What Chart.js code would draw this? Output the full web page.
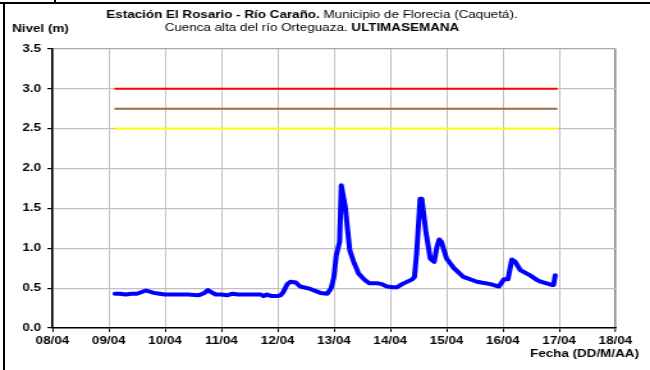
<!DOCTYPE html>
<html><head><meta charset="utf-8">
<script src="https://cdn.jsdelivr.net/npm/chart.js@4"></script>
<style>
html,body{margin:0;padding:0;background:#fff;}
#wrap{position:relative;width:650px;height:370px;overflow:hidden;background:#fff;}
#c{position:absolute;left:0;top:0;transform:scaleX(1.2795);transform-origin:0 0;}
.fr{position:absolute;background:#000;}
</style></head><body>
<div id="wrap">
<canvas id="c" width="508" height="370" style="width:508px;height:370px"></canvas>
<div class="fr" style="left:0;top:2px;width:650px;height:2px"></div>
<div class="fr" style="left:3px;top:2px;width:2px;height:368px"></div>
<div class="fr" style="left:54px;top:0;width:2px;height:3px"></div>
</div>
<script>
const tickLabels = ['08/04','09/04','10/04','11/04','12/04','13/04','14/04','15/04','16/04','17/04','18/04'];
const yTickValues = [0, 0.5, 1.0, 1.5, 2.0, 2.5, 3.0, 3.5];
const titleLine1 = [['Estación El Rosario - Río Caraño.', true], [' Municipio de Florecia (Caquetá).', false]];
const titleLine2 = [['Cuenca alta del río Orteguaza. ', false], ['ULTIMASEMANA', true]];
const yAxisTitle = 'Nivel (m)';
const xAxisTitle = 'Fecha (DD/M/AA)';

const levelDays = [9.11, 9.2, 9.3, 9.4, 9.5, 9.66, 9.8, 9.9, 10.0, 10.2, 10.4, 10.6, 10.7, 10.76, 10.82, 10.9,
  11.0, 11.1, 11.2, 11.3, 11.5, 11.7, 11.75, 11.8, 11.9, 11.99, 12.05, 12.1, 12.17, 12.23, 12.32, 12.4,
  12.58, 12.76, 12.88, 12.95, 13.0, 13.04, 13.1, 13.13, 13.2, 13.28, 13.35, 13.44, 13.55, 13.63, 13.78,
  13.85, 13.94, 14.05, 14.12, 14.21, 14.39, 14.43, 14.47, 14.53, 14.56, 14.63, 14.71, 14.78, 14.83, 14.87,
  14.91, 15.0, 15.13, 15.3, 15.54, 15.78, 15.93, 16.02, 16.09, 16.16, 16.22, 16.31, 16.46, 16.61, 16.67,
  16.87, 16.9, 16.93];
const levelValues = [0.43, 0.43, 0.42, 0.43, 0.43, 0.47, 0.44, 0.43, 0.42, 0.42, 0.42, 0.41, 0.44, 0.475, 0.45, 0.42,
  0.42, 0.41, 0.43, 0.42, 0.42, 0.42, 0.40, 0.42, 0.40, 0.40, 0.41, 0.45, 0.55, 0.58, 0.57, 0.52,
  0.49, 0.44, 0.43, 0.50, 0.64, 0.91, 1.08, 1.79, 1.52, 0.975, 0.83, 0.68, 0.60, 0.56, 0.56,
  0.55, 0.52, 0.51, 0.51, 0.55, 0.61, 0.64, 0.95, 1.62, 1.62, 1.22, 0.87, 0.83, 1.02, 1.11,
  1.08, 0.87, 0.75, 0.64, 0.58, 0.55, 0.52, 0.61, 0.61, 0.86, 0.83, 0.725, 0.67, 0.60, 0.58,
  0.54, 0.54, 0.66];

const thresholdDays = [9.1, 16.97];
const redLevel = [3.0, 3.0];
const brownLevel = [2.75, 2.75];
const yellowLevel = [2.5, 2.5];

const FONT = '"Liberation Sans", Arial, sans-serif';
const toXY = (xs, ys) => xs.map((d, i) => ({x: d, y: ys[i]}));

function drawMixed(ctx, parts, cx, y, size) {
  let total = 0;
  const ws = parts.map(p => {
    ctx.font = (p[1] ? 'bold ' : '') + size + 'px ' + FONT;
    const w = ctx.measureText(p[0]).width;
    total += w;
    return w;
  });
  let x = cx - total / 2;
  ctx.textAlign = 'left';
  parts.forEach((p, i) => {
    ctx.font = (p[1] ? 'bold ' : '') + size + 'px ' + FONT;
    ctx.fillText(p[0], x, y);
    x += ws[i];
  });
}

const textPlugin = {
  id: 'texts',
  afterDraw(chart) {
    const ctx = chart.ctx;
    ctx.save();
    ctx.fillStyle = '#000';
    ctx.textBaseline = 'middle';
    drawMixed(ctx, titleLine1, 243.8, 15, 10.5);
    drawMixed(ctx, titleLine2, 243.8, 28, 10.5);
    ctx.font = 'bold 10.5px ' + FONT;
    ctx.textAlign = 'left';
    ctx.fillText(yAxisTitle, 9.4, 29);
    ctx.textAlign = 'right';
    ctx.fillText(xAxisTitle, 499.4, 354);
    ctx.restore();
  }
};

const tickFont = {family: FONT, size: 10.5, weight: 'bold'};

new Chart(document.getElementById('c'), {
  type: 'line',
  data: {
    datasets: [
      {data: toXY(levelDays, levelValues), borderColor: '#0000ff', borderWidth: 4, pointRadius: 0, tension: 0, fill: false, borderJoinStyle: 'round', borderCapStyle: 'round'},
      {data: toXY(thresholdDays, redLevel), borderColor: '#ff0000', borderWidth: 2, pointRadius: 0, fill: false},
      {data: toXY(thresholdDays, brownLevel), borderColor: '#a06a3a', borderWidth: 2, pointRadius: 0, fill: false},
      {data: toXY(thresholdDays, yellowLevel), borderColor: '#ffff00', borderWidth: 2, pointRadius: 0, fill: false}
    ]
  },
  options: {
    responsive: false,
    devicePixelRatio: 1,
    animation: false,
    layout: {padding: {left: 0, right: 27, top: 48.8, bottom: 0}},
    plugins: {legend: {display: false}, tooltip: {enabled: false}, title: {display: false}},
    scales: {
      x: {
        type: 'linear', min: 8, max: 18,
        afterBuildTicks: s => { s.ticks = tickLabels.map((_, i) => ({value: 8 + i})); },
        ticks: {autoSkip: false, maxRotation: 0, font: tickFont, color: '#000', padding: 3,
          callback: v => tickLabels[Math.round(v) - 8]},
        grid: {
          color: c => (c.tick && c.tick.value === 18) ? '#8c8c8c' : '#c0c0c0',
          lineWidth: c => (c.tick && c.tick.value === 18) ? 1.6 : 1,
          tickColor: '#000', tickLength: 4, tickWidth: 1
        },
        border: {color: '#000', width: 1.6},
        afterFit: s => { s.height = 42; }
      },
      y: {
        min: 0, max: 3.5,
        afterBuildTicks: s => { s.ticks = yTickValues.map(v => ({value: v})); },
        ticks: {font: tickFont, color: '#000', padding: 5, callback: v => Number(v).toFixed(1)},
        grid: {
          color: c => (c.tick && c.tick.value === 3.5) ? '#a8a8a8' : '#c0c0c0',
          lineWidth: 1.2,
          tickColor: '#000', tickLength: 4, tickWidth: 1.2
        },
        border: {color: '#000', width: 1.6},
        afterFit: s => { s.width = 41; }
      }
    }
  },
  plugins: [textPlugin]
});
</script>
</body></html>
